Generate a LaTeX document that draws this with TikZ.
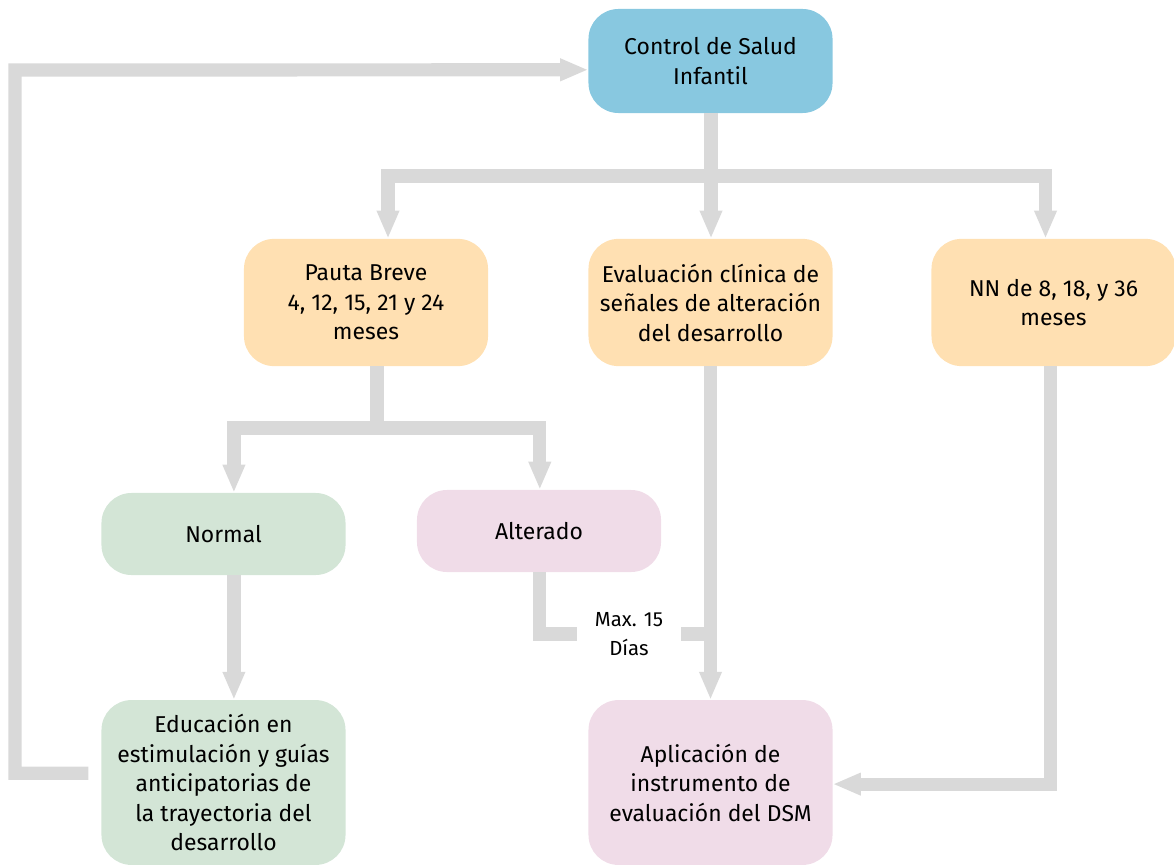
\documentclass[tikz,border=0pt]{standalone}
\usepackage{fontspec}
\setmainfont{Fira Sans}
\usepackage{tikz}
\usetikzlibrary{arrows.meta}
\definecolor{cajaazul}{RGB}{136,200,224}
\definecolor{cajadurazno}{RGB}{255,224,178}
\definecolor{cajaverde}{RGB}{211,229,214}
\definecolor{cajarosa}{RGB}{240,220,232}
\definecolor{flecha}{RGB}{217,217,217}

\begin{document}
\begin{tikzpicture}[x=0.025cm,y=-0.025cm,
		caja/.style={rounded corners=0.75cm, minimum width=6.1cm, align=center, inner sep=0pt, font=\fontsize{16.3}{21}\selectfont},
		linea/.style={draw=flecha, line width=0.33cm},
		flujo/.style={linea, -{Triangle[width=0.52cm,length=0.7cm]}}]
		\useasboundingbox (0,0) rectangle (1174,865);
		\path (710.5,61) node(ctrl)[caja, fill=cajaazul, minimum height=2.6cm]{Control de Salud\\Infantil}
		(366,302.5) node(pauta)[caja, fill=cajadurazno, minimum height=3.18cm]{Pauta Breve\\4, 12, 15, 21 y 24\\meses}
		(710.5,302.5) node(eval)[caja, fill=cajadurazno, minimum height=3.18cm]{Evaluación clínica de\\señales de alteración\\del desarrollo}
		(1053.5,302.5) node(nn)[caja, fill=cajadurazno, minimum height=3.18cm]{NN de 8, 18, y 36\\meses}
		(223.5,534) node(normal)[caja, fill=cajaverde, minimum height=2.05cm]{Normal}
		(539,531) node(alt)[caja, fill=cajarosa, minimum height=2.05cm]{Alterado}
		(223.5,782.5) node(edu)[caja, fill=cajaverde, minimum height=4.12cm]{Educación en\\estimulación y guías\\anticipatorias de\\la trayectoria del\\desarrollo}
		(710.5,782.5) node(apl)[caja, fill=cajarosa, minimum height=4.12cm]{Aplicación de\\instrumento de\\evaluación del DSM}
		(629,634) node(dias)[minimum width=2.6cm, inner sep=0pt, align=center, font=\fontsize{14.5}{20.5}\selectfont]{Max. 15\\Días};
		\coordinate (rama) at (711,176);
		\coordinate (rama2) at (377,428);
		\coordinate (vuelta) at (15,70);
		% desde el control
		\draw[flujo] (ctrl.south -| rama) -- (rama) -| ([xshift=0.55cm]pauta.north);
		\draw[flujo] (rama) -| ([xshift=-0.2cm]nn.north);
		\draw[flujo] (rama) -- (rama |- eval.north);
		% pauta breve
		\draw[flujo] (pauta.south -| rama2) -- (rama2) -| ([xshift=0.26cm]normal.north);
		\draw[flujo] (rama2) -| ([xshift=0.02cm]alt.north);
		\draw[flujo] ([xshift=0.26cm]normal.south) -- ([xshift=0.26cm]edu.north);
		% hacia el DSM
		\draw[flujo] (eval.south) -- (apl.north);
		\draw[linea] ([xshift=0.02cm]alt.south) |- (dias.west);
		\draw[linea] (dias.east) -- (dias.east -| apl.north);
		\draw[flujo] ([xshift=-0.08cm]nn.south) |- ([yshift=-0.04cm]apl.east);
		% vuelta al control
		\draw[flujo] ([xshift=-0.32cm,yshift=0.23cm]edu.west) -| (vuelta) -- ([yshift=-0.22cm]ctrl.west);
\end{tikzpicture}
\end{document}
